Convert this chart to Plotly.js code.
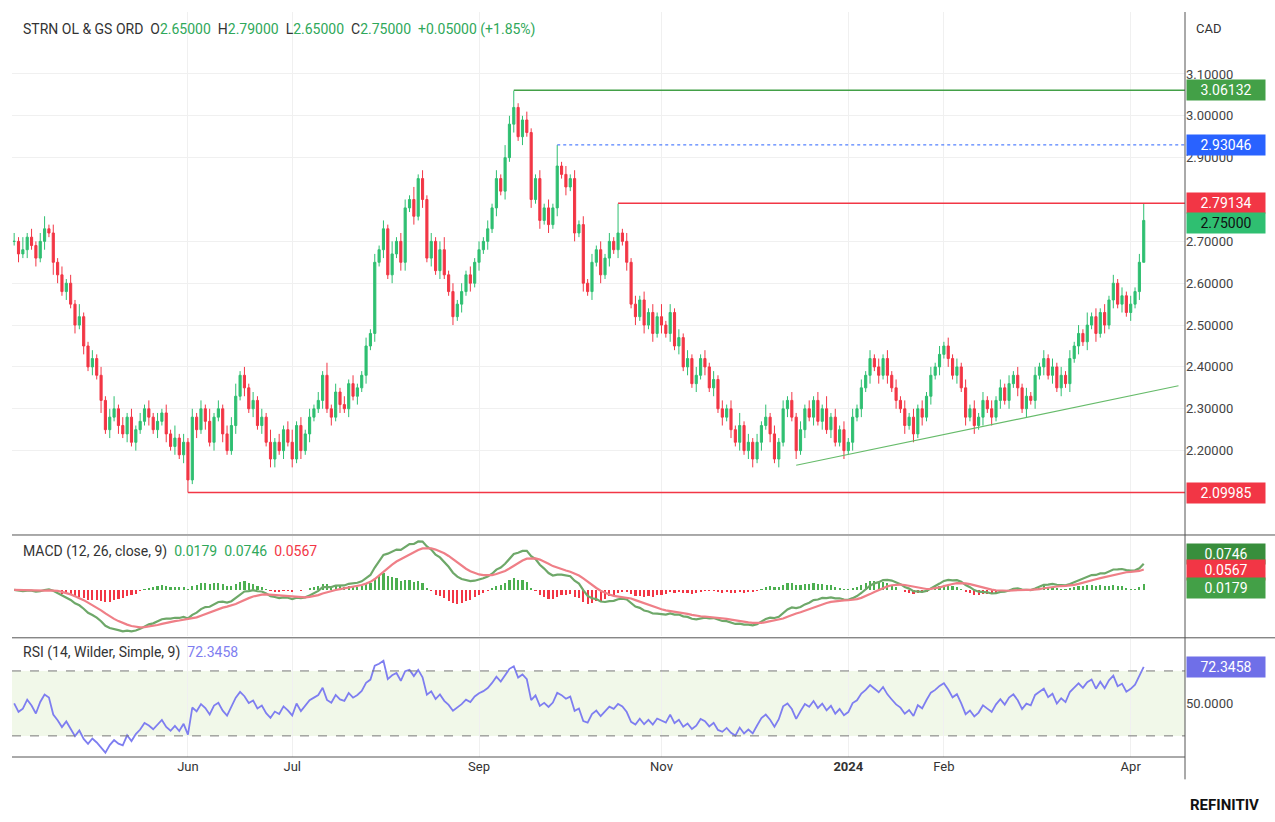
<!DOCTYPE html>
<html>
<head>
<meta charset="utf-8">
<script src="https://cdn.plot.ly/plotly-3.0.1.min.js"></script>
<style>body{margin:0;background:#fff;font-family:Roboto,sans-serif}</style>
</head>
<body>
<div id="chart" style="width:1275px;height:822px"></div>
<script>
// daily closes (index 0 = first bar, early Apr 2023)
const closes = [
  2.70,2.67,2.68,2.71,2.69,2.66,2.70,2.73,2.72,2.65,
  2.62,2.58,2.60,2.55,2.50,2.52,2.45,2.40,2.42,2.38,
  2.32,2.25,2.28,2.30,2.26,2.24,2.28,2.22,2.25,2.27,
  2.30,2.28,2.25,2.27,2.29,2.24,2.21,2.23,2.19,2.22,
  2.13,2.28,2.25,2.30,2.27,2.22,2.28,2.30,2.24,2.20,
  2.26,2.33,2.38,2.35,2.30,2.32,2.26,2.28,2.22,2.18,
  2.22,2.20,2.25,2.22,2.18,2.26,2.20,2.24,2.28,2.30,
  2.32,2.38,2.30,2.28,2.34,2.31,2.30,2.36,2.33,2.35,
  2.38,2.45,2.48,2.65,2.68,2.73,2.62,2.67,2.70,2.65,
  2.78,2.80,2.76,2.85,2.80,2.66,2.70,2.63,2.68,2.62,
  2.58,2.52,2.55,2.58,2.62,2.60,2.65,2.68,2.70,2.73,
  2.78,2.85,2.82,2.90,2.98,3.02,2.95,2.99,2.96,2.80,
  2.85,2.75,2.78,2.74,2.78,2.88,2.86,2.83,2.85,2.72,
  2.74,2.60,2.58,2.65,2.68,2.62,2.66,2.70,2.68,2.72,
  2.70,2.65,2.55,2.52,2.56,2.50,2.53,2.48,2.52,2.50,
  2.48,2.53,2.45,2.47,2.40,2.42,2.36,2.38,2.42,2.40,
  2.35,2.37,2.30,2.28,2.30,2.25,2.22,2.26,2.20,2.22,
  2.18,2.22,2.26,2.28,2.24,2.18,2.22,2.30,2.32,2.28,
  2.20,2.25,2.30,2.28,2.32,2.27,2.30,2.25,2.28,2.22,
  2.25,2.20,2.22,2.28,2.30,2.35,2.38,2.42,2.40,2.38,
  2.42,2.38,2.35,2.32,2.30,2.26,2.28,2.24,2.30,2.28,
  2.33,2.38,2.40,2.43,2.45,2.42,2.38,2.40,2.35,2.28,
  2.30,2.26,2.28,2.32,2.30,2.28,2.32,2.35,2.32,2.36,
  2.38,2.35,2.30,2.33,2.32,2.38,2.40,2.42,2.38,2.40,
  2.35,2.38,2.36,2.42,2.45,2.48,2.46,2.50,2.52,2.48,
  2.53,2.50,2.56,2.60,2.55,2.57,2.53,2.55,2.58,2.65,
  2.75
];
// upper / lower wick lengths in cents, one digit per bar
const wickUp = ("2131212312 1212131121 2123121212 1212121312 1212131212 2312121213 1212312121 " +
  "2131212121 1212121312 2131212123 1212121212 1213241121 1212151212 1212121217 1212121213 " +
  "1212121212 1212121312 1213121212 1212121312 1212121212 1212121212 1212121212 1212121212 " +
  "1212121212 1212121312 1212121212 4").replace(/ /g, "");
const wickDn = ("1212121213 2121212121 3121212121 1212121212 3121212121 1212121212 2121212121 " +
  "1212121212 1212121212 2121212121 1212121212 1212121212 1212121212 1212121212 1212121212 " +
  "1212121212 1212121212 2121212121 2121212121 1212121212 1212121212 1212121212 1212121212 " +
  "1212121212 1212121212 1212121212 0").replace(/ /g, "");

const tickIdx = [40, 64, 107, 149, 192, 214, 257];
const tickText = ["Jun", "Jul", "Sep", "Nov", "<b>2024</b>", "Feb", "Apr"];
const priceTicks = [2.2, 2.3, 2.4, 2.5, 2.6, 2.7, 2.9, 3.0, 3.1];

// levels: [value, start bar, colour, dash]
const levels = [
  [3.06132, 115, "#43a047", "solid"],
  [2.93046, 125, "#2962ff", "dot"],
  [2.79134, 139, "#f23645", "solid"],
  [2.09985, 40, "#f23645", "solid"]
];
const trendX = [180, 268];
const trendY = [2.165, 2.355];

const UP = "#2fbf71", DN = "#f23645";

// ohlc
const n = closes.length;
const xs = closes.map((_, i) => i);
const opens = closes.map((c, i) => i === 0 ? c : closes[i - 1]);
const highs = closes.map((c, i) => Math.max(c, opens[i]) + (+wickUp[i]) / 100);
const lows = closes.map((c, i) => Math.min(c, opens[i]) - (+wickDn[i]) / 100);

// indicators
function ema(arr, p) {
  const k = 2 / (p + 1); let out = []; let prev = arr[0];
  arr.forEach((v, i) => { prev = i === 0 ? v : v * k + prev * (1 - k); out.push(prev); });
  return out;
}
const e12 = ema(closes, 12), e26 = ema(closes, 26);
const macd = e12.map((v, i) => v - e26[i]);
const signal = ema(macd, 9);
const hist = macd.map((v, i) => v - signal[i]);

let rsi = [], ag = 0, al = 0;
for (let i = 0; i < n; i++) {
  const d = i === 0 ? 0 : closes[i] - closes[i - 1];
  const g = Math.max(d, 0), l = Math.max(-d, 0);
  if (i === 0) { ag = 0.01; al = 0.01; } else { ag = (ag * 13 + g) / 14; al = (al * 13 + l) / 14; }
  rsi.push(100 - 100 / (1 + ag / al));
}

const data = [
  { type: "candlestick", x: xs, open: opens, high: highs, low: lows, close: closes,
    xaxis: "x", yaxis: "y", whiskerwidth: 0,
    increasing: { line: { color: UP, width: 1 }, fillcolor: UP },
    decreasing: { line: { color: DN, width: 1 }, fillcolor: DN }, hoverinfo: "none" },
  { type: "scatter", mode: "lines", x: trendX, y: trendY, line: { color: "#66bb6a", width: 1.2 }, yaxis: "y" },
  { type: "bar", x: xs, y: hist, yaxis: "y2", width: 0.5,
    marker: { color: hist.map(v => v >= 0 ? "#4caf50" : "#f23645") } },
  { type: "scatter", mode: "lines", x: xs, y: macd, yaxis: "y2", line: { color: "#6ea869", width: 2.2 } },
  { type: "scatter", mode: "lines", x: xs, y: signal, yaxis: "y2", line: { color: "#ef7f87", width: 2.2 } },
  { type: "scatter", mode: "lines", x: xs, y: rsi, yaxis: "y3", line: { color: "#7e7ef0", width: 1.8 } }
];

const shapes = levels.map(l => ({ type: "line", xref: "x", yref: "y", x0: l[1], x1: 269.5, y0: l[0], y1: l[0],
  line: { color: l[2], width: l[3] === "dot" ? 1 : 1.5, dash: l[3] } }));
shapes.push(
  { type: "rect", xref: "paper", yref: "y3", x0: 0, x1: 1, y0: 30, y1: 70, fillcolor: "rgba(139,195,74,0.12)", line: { width: 0 }, layer: "below" },
  { type: "line", xref: "paper", yref: "y3", x0: 0, x1: 1, y0: 70, y1: 70, line: { color: "#777", width: 1, dash: "dash" } },
  { type: "line", xref: "paper", yref: "y3", x0: 0, x1: 1, y0: 30, y1: 30, line: { color: "#777", width: 1, dash: "dash" } },
  { type: "line", xref: "paper", yref: "paper", x0: 0, x1: 1.08, y0: 0.298, y1: 0.298, line: { color: "#555", width: 1 } },
  { type: "line", xref: "paper", yref: "paper", x0: 0, x1: 1.08, y0: 0.16, y1: 0.16, line: { color: "#555", width: 1 } },
  { type: "line", xref: "paper", yref: "paper", x0: 1, x1: 1, y0: -0.03, y1: 1, line: { color: "#555", width: 1 } },
  { type: "line", xref: "paper", yref: "paper", x0: 0, x1: 1, y0: 0, y1: 0, line: { color: "#555", width: 1 } }
);

function tag(y, yref, text, bg, fg) {
  return { xref: "paper", yref: yref, x: 1.001, y: y, xanchor: "left", yanchor: "middle", text: text,
    showarrow: false, bgcolor: bg, font: { color: fg || "#fff", size: 14 }, borderpad: 2, width: 74, align: "center" };
}
const g = "#2fa85a";
const annotations = [
  { xref: "paper", yref: "paper", x: 0.008, y: 0.99, xanchor: "left", yanchor: "top", showarrow: false,
    font: { size: 14, color: "#333" },
    text: `STRN OL & GS ORD  O<span style="color:${g}">2.65000</span>  H<span style="color:${g}">2.79000</span>  L<span style="color:${g}">2.65000</span>  C<span style="color:${g}">2.75000</span>  <span style="color:${g}">+0.05000 (+1.85%)</span>` },
  { xref: "paper", yref: "paper", x: 0.008, y: 0.29, xanchor: "left", yanchor: "top", showarrow: false,
    font: { size: 14, color: "#333" },
    text: `MACD (12, 26, close, 9)  <span style="color:${g}">0.0179</span>  <span style="color:${g}">0.0746</span>  <span style="color:#f23645">0.0567</span>` },
  { xref: "paper", yref: "paper", x: 0.008, y: 0.155, xanchor: "left", yanchor: "top", showarrow: false,
    font: { size: 14, color: "#333" },
    text: `RSI (14, Wilder, Simple, 9)  <span style="color:#7e7ef0">72.3458</span>` },
  { xref: "paper", yref: "paper", x: 1.008, y: 0.99, xanchor: "left", yanchor: "top", showarrow: false, text: "CAD", font: { size: 13, color: "#333" } },
  tag(3.06132, "y", "3.06132", "#43a047"),
  tag(2.93046, "y", "2.93046", "#2962ff"),
  tag(2.79134, "y", "2.79134", "#f23645"),
  tag(2.745, "y", "2.75000", "#2fbf71", "#111"),
  tag(2.09985, "y", "2.09985", "#f23645"),
  tag(macd[n - 1] + 0.025, "y2", "0.0746", "#388e3c"),
  tag(signal[n - 1], "y2", "0.0567", "#f23645"),
  tag(hist[n - 1] - 0.01, "y2", "0.0179", "#43a047"),
  tag(rsi[n - 1], "y3", "72.3458", "#6f6fe8"),
  { xref: "paper", yref: "paper", x: 1.065, y: -0.065, xanchor: "right", yanchor: "middle", showarrow: false,
    text: "<b>REFINITIV</b>", font: { size: 15, color: "#111", family: "Roboto" } }
];

const layout = {
  width: 1275, height: 822, margin: { l: 12, r: 90, t: 12, b: 65 },
  paper_bgcolor: "#fff", plot_bgcolor: "#fff", showlegend: false, bargap: 0,
  font: { family: "Roboto, sans-serif", size: 13, color: "#444" },
  xaxis: { range: [-0.5, 269.5], tickvals: tickIdx, ticktext: tickText, showgrid: true, gridcolor: "#f0f0f0",
    zeroline: false, anchor: "y3", rangeslider: { visible: false }, ticks: "", tickfont: { size: 13, color: "#333" } },
  yaxis: { domain: [0.3, 1], range: [2.002, 3.248], side: "right", tickformat: ".5f", tickvals: priceTicks,
    gridcolor: "#f0f0f0", zeroline: false, tickfont: { size: 13, color: "#444" } },
  yaxis2: { domain: [0.162, 0.296], side: "right", showticklabels: false, showgrid: false, zeroline: false },
  yaxis3: { domain: [0, 0.158], range: [17, 89.5], side: "right", tickvals: [50], tickformat: ".4f",
    showgrid: false, zeroline: false, tickfont: { size: 13, color: "#444" } },
  shapes: shapes, annotations: annotations
};

Plotly.newPlot("chart", data, layout, { displayModeBar: false, staticPlot: true });
</script>
</body>
</html>
